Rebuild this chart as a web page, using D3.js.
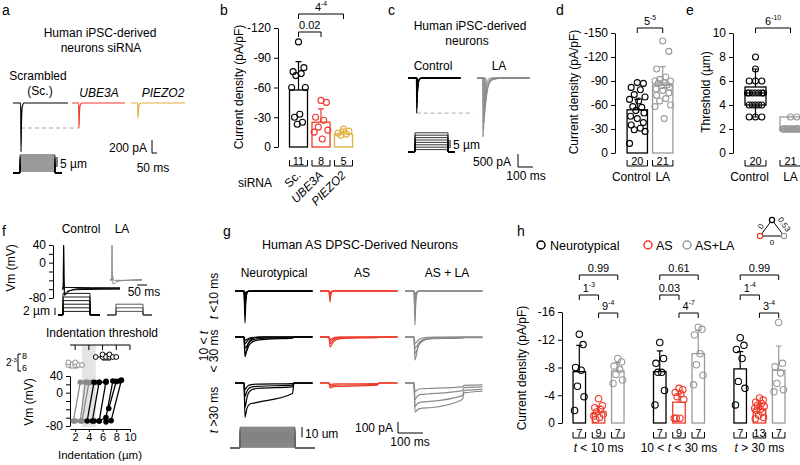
<!DOCTYPE html>
<html><head><meta charset="utf-8">
<script src="https://cdn.jsdelivr.net/npm/d3@7/dist/d3.min.js"></script>
<style>html,body{margin:0;padding:0;background:#fff}svg{display:block}</style>
</head><body>
<script>
// ===================== DATA =====================
// a: representative currents
const aTraces = ["Scrambled","UBE3A","PIEZO2"];
const aPeakPA = [-750,-385,-230];
const aPeakMs = [80,70,70];
const aTauMs  = [5,5,6];
const aEndMs  = [550,530,540];
const aStimUm = [1,2,3,4,5,6,7,8,9];
// b
const bCats = ["Sc.","UBE3A","PIEZO2"];
const bMean = [-57.5,-25,-13];
const bErr  = [-28.5,-13.5,-5];
const bPts  = [[-106,-80,-76,-74,-72,-60,-60,-33,-30,-25,-23],
               [-47,-45,-30,-27,-20,-17,-15,-8],
               [-18,-16,-14,-13,-12]];
const bN = [11,8,5];
const bTicks = [0,-30,-60,-90,-120];
const bSig = ["0.02","4^-4"];
// c: current families
const cCtrlPA = [-1350,-1150,-950,-780,-600,-430,-280,-140];
const cCtrlMs = [58,59,60,61,62,63,64,65];
const cLAPA   = [-2270,-2000,-1720,-1450,-1200,-950,-700,-450];
const cLAMs   = [40,43,46,49,52,55,58,62];
const cLATau  = [8,10,12,14,16,18,20,22];
const cStimUm = [1.5,3,4.5,6,7.5,9,10.5,12];
// d
const dCats = ["Control","LA"];
const dMean = [-54,-85];
const dErr  = [-13,-23];
const dPts  = [[-88,-87,-82,-79,-73,-70,-67,-65,-58,-57,-53,-50,-46,-43,-38,-35,-31,-29,-27,-12],
               [-140,-127,-105,-95,-92,-90,-90,-88,-87,-85,-84,-82,-80,-78,-75,-72,-68,-65,-60,-58,-43]];
const dN = [20,21];
const dTicks = [0,-30,-60,-90,-120,-150];
const dSig = "5^-5";
// e
const eCats = ["Control","LA"];
const eQ1 = [4,2], eMed = [5,2], eQ3 = [5.5,3], eLo = [3,2], eHi = [7,3];
const ePts = [[8,7,6,6,6,5,5,5,5,5,5,5,4,4,4,4,4,3,3,3],
              [3,3,2,2,2,2,2,2,2,2,2,2,2,2,2,2,2,2,2,2,2]];
const eN = [20,21];
const eTicks = [0,2,4,6,8,10];
const eSig = "6^-10";
// f
const fCtrlSweeps = [
  [[0,-58],[6,-58],[8,40],[10,-30],[13,-74],[30,-66],[80,-59],[290,-58]],
  [[0,-60],[6,-60],[8,36],[10,-35],[13,-70],[30,-64],[80,-61],[290,-60]],
  [[0,-57],[6,-57],[9,-50],[15,-56],[290,-57]]];
const fLASweeps = [
  [[0,-38],[8,-38],[10,40],[12,-20],[15,-48],[40,-42],[160,-38]],
  [[0,-40],[8,-40],[11,-30],[20,-40],[160,-40]]];
const fCtrlStim = [1,2,3,4,5,6];
const fLAStim = [1,2,3];
const fThrCtrl = [5,6,6,6.5,7,7,7.5,8];
const fThrLA = [1,1,2,2,2.5,3];
const fShade = [3,5];
const fCellsLA = [
  [[1.75,-68],[2.75,25],[3.75,25]],
  [[2.75,-68],[3.5,25],[4.5,25]],
  [[2,-68],[3,-68],[4,24],[5,24]]];
const fCellsCtrl = [
  [[3.75,-68],[4.75,25],[5.5,25]],
  [[4.5,-68],[5.5,25],[6.5,25]],
  [[4.75,-68],[5.5,-68],[6.5,27]],
  [[5.5,-68],[6.5,-60],[7.5,28],[8.5,28]],
  [[6.5,-70],[7.25,-67],[8.75,30]],
  [[6.9,-38],[8,27]]];
// g: traces per cell: [peak pA, decay ms, sustained start pA, sustained end pA]
const gNT1 = [[-290,3,0,0],[-200,3,0,0],[-120,4,0,0],[-60,4,0,0],[-25,5,0,0]];
const gAS1 = [[-100,3,0,0],[-70,3,0,0],[-40,4,0,0],[-20,4,0,0]];
const gLA1 = [[-310,3,0,0],[-200,3,0,0],[-90,4,0,0],[-40,4,0,0]];
const gNT2 = [[-180,12,0,0],[-150,18,-20,-10],[-100,18,-10,-5],[-60,15,0,0],[-30,15,0,0]];
const gAS2 = [[-90,15,-10,-5],[-60,18,-5,0],[-40,15,0,0],[-25,12,0,0]];
const gLA2 = [[-210,12,-15,-10],[-150,18,-10,-5],[-100,20,-5,0],[-60,15,0,0]];
const gNT3 = [[-310,8,-180,-95],[-220,10,-50,-35],[-120,10,-30,-20],[-60,10,-10,-5]];
const gAS3 = [[-45,10,-30,-20],[-30,10,-18,-12],[-15,10,-8,-5]];
const gLA3 = [[-265,12,-225,-150],[-215,10,-170,-115],[-150,10,-100,-70],[-80,10,-50,-35]];
const gStimUm = [1,2,3,4,5,6,7,8,9,10,11,12,13,14,15,16,17,18,19,20];
// h
const hGroups = ["g1","g2","g3"];
const hSeries = ["Neurotypical","AS","AS+LA"];
const hMean = [[-7.4,-1.5,-7.5],[-7.4,-3.0,-10.0],[-7.8,-2.0,-7.6]];
const hErr  = [[-3.8,-0.9,-1.2],[-3.0,-1.2,-3.4],[-2.5,-0.8,-3.5]];
const hN    = [[7,9,7],[7,9,7],[7,13,7]];
const hPts  = [
  [[-12.8,-11.3,-8.0,-7.6,-5.3,-3.8,-1.8],[-3.5,-2.5,-2.2,-2.0,-1.6,-1.3,-1.0,-0.8,-0.5],[-9.3,-8.8,-8.2,-7.7,-7.0,-6.2,-5.7]],
  [[-11.6,-9.3,-8.6,-7.3,-7.3,-4.7,-2.6],[-5.0,-4.8,-4.4,-4.2,-3.8,-3.4,-0.7,-0.7,-0.7],[-13.8,-13.5,-12.7,-10.0,-8.4,-6.9,-5.5]],
  [[-12.3,-11.2,-10.6,-9.3,-6.0,-5.0,-2.6],[-3.6,-3.3,-3.0,-2.8,-2.6,-2.4,-2.1,-2.0,-1.8,-1.5,-1.1,-0.8,-0.6],[-14.5,-8.6,-8.1,-7.2,-5.7,-4.8,-4.5]]];
const hTicks = [0,-4,-8,-12,-16];
const hSigNtAs = ["1^-3","0.03","1^-4"];
const hSigAsLa = ["9^-4","4^-7","3^-4"];
const hSigNtLa = ["0.99","0.61","0.99"];
const triLabels = ["0","0.53","0"];

// ===================== DRAWING =====================
const FONT = "'Liberation Sans', Arial, Helvetica, sans-serif";
const C = {k:"#000", red:"#EE3A2A", gold:"#E1B03F", gray:"#9a9a9a", tgray:"#8a8a8a"};
const svg = d3.select("body").append("svg").attr("width",800).attr("height",465)
  .attr("font-family",FONT);

function T(g,x,y,s,o={}){
  const t=g.append("text").attr("x",x).attr("y",y).attr("font-size",o.size||12)
    .attr("text-anchor",o.anchor||"start").attr("fill",o.fill||"#000").attr("font-family",FONT);
  if(o.italic) t.attr("font-style","italic");
  if(o.rot!=null) t.attr("transform",`rotate(${o.rot},${x},${y})`);
  if(s) t.text(s);
  return t;
}
function label(g,x,y,s,o={}){
  const size=o.size||12, t=T(g,x,y,"",o), [base,exp]=s.split("^");
  t.append("tspan").text(base);
  if(exp!==undefined) t.append("tspan").attr("font-size",size*0.62).attr("dy",-size*0.42).text(exp);
  return t;
}
function rich(g,x,y,parts,o={}){
  const t=T(g,x,y,"",o);
  parts.forEach(p=>{const s=t.append("tspan").text(p[0]); if(p[1]) s.attr("font-style","italic");});
  return t;
}
function line(g,d,col,w){ return g.append("path").attr("d",d).attr("fill","none").attr("stroke",col||"#000").attr("stroke-width",w||1); }
function sig(g,x1,x2,y,s){ line(g,`M${x1},${y+5}V${y}H${x2}V${y+5}`,"#000",1); label(g,(x1+x2)/2,y-3,s,{anchor:"middle",size:11}); }
function nBr(g,x0,x1,y,n){ line(g,`M${x0},${y-6}V${y}H${x1}V${y-6}`,"#000",1); T(g,(x0+x1)/2,y-1.5,String(n),{anchor:"middle",size:11}); }
function yAxis(g,x,scale,ticks,labelled){
  const ax=d3.axisLeft(scale).tickValues(ticks).tickSize(4).tickSizeOuter(0).tickPadding(3)
    .tickFormat(d=>(!labelled||labelled.includes(d))?String(d):"");
  const a=g.append("g").attr("transform",`translate(${x},0)`).call(ax);
  a.selectAll("text").attr("font-size",12).attr("font-family",FONT).attr("fill","#000");
  a.selectAll("line").attr("stroke","#000");
  a.select(".domain").attr("stroke","#000");
  return a;
}
const JIT=[0,0.3,-0.3,0.15,-0.15,0.38,-0.38,0.07,-0.22,0.22,-0.07,0.33,-0.33];
function barDots(g,o){
  o.cats.forEach((c,i)=>{
    const x0=o.x(c), bw=o.x.bandwidth(), cx=x0+bw/2, col=o.colors[i];
    const yTop=o.y(o.mean[i]), y0=o.y(0);
    g.append("rect").attr("x",x0).attr("y",yTop).attr("width",bw).attr("height",y0-yTop)
      .attr("fill","#fff").attr("stroke",col).attr("stroke-width",1.3);
    const ye=o.y(o.mean[i]+o.err[i]);
    line(g,`M${cx},${yTop}V${ye}M${cx-3},${ye}H${cx+3}`,col,1.2);
    o.pts[i].forEach((v,j)=>g.append("circle").attr("cx",cx+JIT[j%JIT.length]*bw).attr("cy",o.y(v))
      .attr("r",o.r||3).attr("fill","none").attr("stroke",col).attr("stroke-width",1.1));
    nBr(g,x0,x0+bw,o.nY,o.n[i]);
  });
}
function transient(on,pkT,amp,tau,end){
  return [[0,0],[on,0],[pkT,amp],[pkT+tau,amp*0.37],[pkT+2.5*tau,amp*0.08],[pkT+6*tau,0],[end,0]];
}
const mono = (xs,ys)=>d3.line().x(d=>xs(d[0])).y(d=>ys(d[1])).curve(d3.curveMonotoneX);
const lin = (xs,ys)=>d3.line().x(d=>xs(d[0])).y(d=>ys(d[1]));

// ---------- a ----------
const gA=svg.append("g");
T(gA,2,15,"a",{size:14});
T(gA,100,37,"Human iPSC-derived",{anchor:"middle"});
T(gA,101,52,"neurons siRNA",{anchor:"middle"});
T(gA,38,80,"Scrambled",{anchor:"middle"});
T(gA,40,95,"(Sc.)",{anchor:"middle"});
T(gA,99,97,"UBE3A",{anchor:"middle",italic:true});
T(gA,163,97,"PIEZO2",{anchor:"middle",italic:true});
const aX0=[13,72,131], aCol=[C.k,C.red,C.gold];
const aY=d3.scaleLinear().domain([0,-200]).range([103,116]);
const aXs=aTraces.map((nm,i)=>d3.scaleLinear().domain([0,aEndMs[i]]).range([aX0[i],aX0[i]+aEndMs[i]/10]));
line(gA,`M${aXs[0](aPeakMs[0])},${aY(aPeakPA[1])}H${aXs[1](aPeakMs[1])}`,"#aaa",1).attr("stroke-dasharray","4,3");
aTraces.forEach((nm,i)=>{
  line(gA,mono(aXs[i],aY)(transient(aPeakMs[i]-3,aPeakMs[i],aPeakPA[i],aTauMs[i],aEndMs[i])),aCol[i],1.2);
});
const aSx=d3.scaleLinear().domain([0,490]).range([13,62]);
const aSy=d3.scaleLinear().domain([0,9]).range([173,155]);
aStimUm.forEach(u=>line(gA,`M${aSx(0)},${aSy(0)}H${aSx(70)}V${aSy(u)}H${aSx(420)}V${aSy(0)}H${aSx(490)}`,"#000",0.8));
line(gA,`M57,${aSy(3)}V${aSy(8)}`,"#000",1);
T(gA,60,168,"5 µm");
line(gA,"M152,140V153H157","#000",1);
T(gA,147,152,"200 pA",{anchor:"end"});
T(gA,153,172,"50 ms",{anchor:"middle"});

// ---------- b ----------
const gB=svg.append("g");
T(gB,220,15,"b",{size:14});
const yb=d3.scaleLinear().domain([0,-120]).range([147,28]);
const xb=d3.scaleBand().domain(bCats).range([285,357]).padding(0.2);
yAxis(gB,278,yb,bTicks);
T(gB,243,87,"Current density (pA/pF)",{anchor:"middle",rot:-90});
barDots(gB,{cats:bCats,mean:bMean,err:bErr,pts:bPts,n:bN,colors:[C.k,C.red,C.gold],x:xb,y:yb,nY:166});
T(gB,238,187,"siRNA");
bCats.forEach((c,i)=>{
  const cx=xb(c)+xb.bandwidth()/2+3;
  T(gB,cx,176,c,{anchor:"end",rot:-45,italic:i>0});
});
const bc=c=>xb(c)+xb.bandwidth()/2;
sig(gB,bc("Sc."),bc("UBE3A"),32,bSig[0]);
sig(gB,bc("Sc."),bc("PIEZO2"),14,bSig[1]);

// ---------- c ----------
const gC=svg.append("g");
T(gC,388,15,"c",{size:14});
T(gC,470,30,"Human iPSC-derived",{anchor:"middle"});
T(gC,467,45,"neurons",{anchor:"middle"});
T(gC,433,70,"Control",{anchor:"middle"});
T(gC,499,70,"LA",{anchor:"middle"});
const cY=d3.scaleLinear().domain([0,-500]).range([78,91]);
const cXc=d3.scaleLinear().domain([0,350]).range([408,460.5]);
const cXl=d3.scaleLinear().domain([0,350]).range([477,529.5]);
line(gC,`M${cXc(cCtrlMs[0])},${cY(cCtrlPA[0])}H${cXl(0)-4}`,"#aaa",1).attr("stroke-dasharray","4,3");
cCtrlPA.forEach((a,i)=>line(gC,mono(cXc,cY)(transient(cCtrlMs[i]-3,cCtrlMs[i],a,4+i*0.6,350)),"#000",0.8));
cLAPA.forEach((a,i)=>line(gC,mono(cXl,cY)(transient(cLAMs[i]-4,cLAMs[i],a,cLATau[i],350)),C.tgray,0.8));
const cSx=d3.scaleLinear().domain([0,315]).range([408,455]);
const cSy=d3.scaleLinear().domain([0,12.5]).range([152,132]);
cStimUm.forEach(u=>line(gC,`M${cSx(0)},${cSy(0)}H${cSx(47)}V${cSy(u)}H${cSx(268)}V${cSy(0)}H${cSx(315)}`,"#000",0.8));
line(gC,`M450,${cSy(2.5)}V${cSy(7.5)}`,"#000",1);
T(gC,453,149,"5 µm");
line(gC,"M518,154V167H533","#000",1);
T(gC,511,166,"500 pA",{anchor:"end"});
T(gC,526,180,"100 ms",{anchor:"middle"});

// ---------- d ----------
const gD=svg.append("g");
T(gD,556,15,"d",{size:14});
const yd=d3.scaleLinear().domain([0,-150]).range([153,33]);
const xd=d3.scaleBand().domain(dCats).range([622,678]).padding(0.2);
yAxis(gD,615,yd,dTicks);
T(gD,578,92,"Current density (pA/pF)",{anchor:"middle",rot:-90});
barDots(gD,{cats:dCats,mean:dMean,err:dErr,pts:dPts,n:dN,colors:[C.k,C.gray],x:xd,y:yd,nY:166});
dCats.forEach((c,i)=>T(gD,xd(c)+xd.bandwidth()/2-(i===0?6:0),181,c,{anchor:"middle"}));
sig(gD,xd("Control")+xd.bandwidth()/2,xd("LA")+xd.bandwidth()/2,28,dSig);

// ---------- e ----------
const gE=svg.append("g");
T(gE,686,15,"e",{size:14});
const ye=d3.scaleLinear().domain([0,10]).range([153,33]);
const xe=d3.scaleBand().domain(eCats).range([741.5,804.5]).paddingInner(0.4).paddingOuter(0.1);
yAxis(gE,733,ye,eTicks);
T(gE,710,92,"Threshold (µm)",{anchor:"middle",rot:-90});
eCats.forEach((c,i)=>{
  const x0=xe(c), bw=xe.bandwidth(), cx=x0+bw/2, col=i===0?C.k:C.gray;
  line(gE,`M${cx},${ye(eQ3[i])}V${ye(eHi[i])}M${cx-3},${ye(eHi[i])}H${cx+3}M${cx},${ye(eQ1[i])}V${ye(eLo[i])}M${cx-3},${ye(eLo[i])}H${cx+3}`,col,1.2);
  gE.append("rect").attr("x",x0).attr("y",ye(eQ3[i])).attr("width",bw).attr("height",ye(eQ1[i])-ye(eQ3[i]))
    .attr("fill","#fff").attr("stroke",col).attr("stroke-width",1.3);
  line(gE,`M${x0},${ye(eMed[i])}H${x0+bw}`,col,1.3);
  const seen={};
  ePts[i].forEach(v=>{const k=(seen[v]=(seen[v]||0)+1)-1;
    gE.append("circle").attr("cx",cx+JIT[k%JIT.length]*bw).attr("cy",ye(v)).attr("r",3)
      .attr("fill","none").attr("stroke",col).attr("stroke-width",1.1);});
  nBr(gE,x0,x0+bw,166,eN[i]);
  T(gE,cx-(i===0?6:0),181,c,{anchor:"middle"});
});
sig(gE,xe("Control")+xe.bandwidth()/2,xe("LA")+xe.bandwidth()/2,28,eSig);

// ---------- f ----------
const gF=svg.append("g");
T(gF,2,236,"f",{size:14});
T(gF,81,233,"Control",{anchor:"middle"});
T(gF,122,233,"LA",{anchor:"middle"});
const fVy=d3.scaleLinear().domain([-80,40]).range([298,245]);
yAxis(gF,53,fVy,[40,20,0,-20,-40,-60,-80],[40,0,-80]);
T(gF,15,268,"Vm (mV)",{anchor:"middle",rot:-90});
const fCx=d3.scaleLinear().domain([0,290]).range([62,120]);
const fLx=d3.scaleLinear().domain([0,160]).range([110,142]);
fCtrlSweeps.forEach(s=>line(gF,mono(fCx,fVy)(s),"#000",1));
fLASweeps.forEach(s=>line(gF,mono(fLx,fVy)(s),C.tgray,1));
line(gF,`M${fLx(135)},285H${fLx(135)+10}`,"#000",1);
T(gF,144,296,"50 ms",{anchor:"middle"});
const fCSx=d3.scaleLinear().domain([0,210]).range([58,100]);
const fLSx=d3.scaleLinear().domain([0,225]).range([107,152]);
const fSy=d3.scaleLinear().domain([0,6]).range([315,293.4]);
fCtrlStim.forEach(u=>line(gF,`M${fCSx(0)},${fSy(0)}H${fCSx(25)}V${fSy(u)}H${fCSx(160)}V${fSy(0)}H${fCSx(210)}`,"#000",0.9));
fLAStim.forEach(u=>line(gF,`M${fLSx(0)},${fSy(0)}H${fLSx(45)}V${fSy(u)}H${fLSx(180)}V${fSy(0)}H${fLSx(225)}`,"#444",0.9));
line(gF,`M55,${fSy(0)}V${fSy(2)}`,"#000",1);
T(gF,50,315,"2 µm",{anchor:"end"});
T(gF,102,337,"Indentation threshold",{anchor:"middle"});
const fx=d3.scaleLinear().domain([1.25,10]).range([70,130]);
const fy=d3.scaleLinear().domain([-80,40]).range([426,376]);
gF.append("rect").attr("x",fx(fShade[0])).attr("y",345).attr("width",fx(fShade[1])-fx(fShade[0])).attr("height",82).attr("fill","#e4e4e4");
line(gF,`M70,345H130`+[2,4,6,8,10].map(v=>`M${fx(v)},345V350`).join(""),"#000",1);
function thrRow(vals,y,col){
  const s=vals.slice().sort(d3.ascending);
  line(gF,`M${fx(s[0])},${y}H${fx(s[s.length-1])}`,col,1);
  gF.append("rect").attr("x",fx(d3.quantile(s,0.25))).attr("y",y-3).attr("width",fx(d3.quantile(s,0.75))-fx(d3.quantile(s,0.25))).attr("height",6).attr("fill","#fff").attr("stroke",col).attr("stroke-width",1);
  const seen={};
  vals.forEach(v=>{const k=(seen[v]=(seen[v]||0)+1)-1;
    gF.append("circle").attr("cx",fx(v)).attr("cy",y+[0,-2.6,2.6][k%3]).attr("r",2.4).attr("fill","#fff").attr("stroke",col).attr("stroke-width",1);});
}
thrRow(fThrCtrl,357,"#000");
thrRow(fThrLA,365,C.tgray);
line(gF,"M21,354H18V371H21","#000",1);
T(gF,22,359,String(fThrCtrl.length),{size:9});
T(gF,22,371,String(fThrLA.length),{size:9});
label(gF,17,366,"2^-3",{anchor:"end",size:10});
yAxis(gF,70,fy,[40,20,0,-20,-40,-60,-80],[40,0,-80]);
const fxa=gF.append("g").attr("transform","translate(0,429)").call(d3.axisBottom(fx).tickValues([2,4,6,8,10]).tickSize(3).tickSizeOuter(0).tickPadding(1));
fxa.selectAll("text").attr("font-size",11).attr("font-family",FONT).attr("fill","#000");
fxa.selectAll("line,path").attr("stroke","#000");
T(gF,100,459,"Indentation (µm)",{anchor:"middle",size:11.5});
T(gF,33,402,"Vm (mV)",{anchor:"middle",rot:-90});
[[fCellsLA,C.tgray],[fCellsCtrl,"#000"]].forEach(([cells,col])=>cells.forEach(cell=>{
  line(gF,lin(fx,fy)(cell),col,1.3);
  cell.forEach(p=>gF.append("circle").attr("cx",fx(p[0])).attr("cy",fy(p[1])).attr("r",2.8).attr("fill",col));
}));

// ---------- g ----------
const gG=svg.append("g");
T(gG,223,236,"g",{size:14});
T(gG,360,249,"Human AS DPSC-Derived Neurons",{anchor:"middle",size:12.5});
const gColLbl=["Neurotypical","AS","AS + LA"], gColCx=[274,362,447];
gColLbl.forEach((s,i)=>T(gG,gColCx[i],277,s,{anchor:"middle"}));
rich(gG,218,296,[["t",1],[" <10 ms"]],{anchor:"middle",rot:-90});
rich(gG,208,346,[["10 < "],["t",1]],{anchor:"middle",rot:-90});
T(gG,218,351,"< 30 ms",{anchor:"middle",rot:-90});
rich(gG,218,410,[["t",1],[" >30 ms"]],{anchor:"middle",rot:-90});
const gCells=[[gNT1,gAS1,gLA1],[gNT2,gAS2,gLA2],[gNT3,gAS3,gLA3]];
const gCol=[C.k,C.red,C.tgray], gX0=[235,320,405], gY0=[291,337,383];
gCells.forEach((row,r)=>row.forEach((traces,c)=>{
  const xs=d3.scaleLinear().domain([0,310]).range([gX0[c],gX0[c]+77.5]);
  const ys=d3.scaleLinear().domain([0,-100]).range([gY0[r],gY0[r]+11]);
  traces.forEach(([pk,tau,s1,s2])=>{
    const pts=[[0,0],[36,0],[40,pk],[40+tau,s1+(pk-s1)*0.37],[40+2.5*tau,s1+(pk-s1)*0.08],[40+5*tau,s1],[230,s2]];
    if(c===2) pts.push([236,s2*0.6],[310,s2*0.5]); else pts.push([236,0],[310,0]);
    line(gG,mono(xs,ys)(pts),gCol[c],1.2);
  });
}));
const gSx=d3.scaleLinear().domain([0,340]).range([230,315]);
const gSy=d3.scaleLinear().domain([0,20]).range([448,427]);
gG.append("path").attr("d",`M${gSx(40)},${gSy(0)}V${gSy(20)}H${gSx(260)}V${gSy(0)}Z`).attr("fill","#a8a8a8");
gStimUm.forEach(u=>line(gG,`M${gSx(0)},${gSy(0)}H${gSx(40)}V${gSy(u)}H${gSx(260)}V${gSy(0)}H${gSx(340)}`,"#666",0.6));
line(gG,`M302,${gSy(20)}V${gSy(10)}`,"#000",1);
T(gG,305,438,"10 um");
line(gG,"M398,422V433H423","#000",1);
T(gG,393,432,"100 pA",{anchor:"end"});
T(gG,410,446,"100 ms",{anchor:"middle"});

// ---------- h ----------
const gH=svg.append("g");
T(gH,517,236,"h",{size:14});
const legCol=[C.k,C.red,C.gray], legCx=[541,648,687], legTx=[550,656,695];
hSeries.forEach((s,i)=>{
  gH.append("circle").attr("cx",legCx[i]).attr("cy",245).attr("r",4).attr("fill","none").attr("stroke",legCol[i]).attr("stroke-width",1.5);
  T(gH,legTx[i],249.5,s,{size:12.5});
});
const tri=[[772,220],[760,236],[784,236]], triCol=[C.k,C.red,C.gray];
line(gH,`M${tri[0]}L${tri[1]}L${tri[2]}Z`,"#000",1);
tri.forEach((p,i)=>gH.append("circle").attr("cx",p[0]).attr("cy",p[1]).attr("r",2.6).attr("fill","#fff").attr("stroke",triCol[i]).attr("stroke-width",1.2));
T(gH,763,228,triLabels[0],{anchor:"middle",size:8,rot:-55});
T(gH,782,226,triLabels[1],{anchor:"middle",size:8,rot:55});
T(gH,772,245,triLabels[2],{anchor:"middle",size:8});
const hy=d3.scaleLinear().domain([0,-16]).range([423,312]);
const hx0=d3.scaleBand().domain(hGroups).range([565,793]).paddingInner(0.366).paddingOuter(0.1);
const hx1=d3.scaleBand().domain(hSeries).range([0,hx0.bandwidth()]).paddingInner(0.35);
yAxis(gH,562,hy,hTicks);
T(gH,526,368,"Current density (pA/pF)",{anchor:"middle",rot:-90});
const hLbl=[[["t",1],[" < 10 ms"]],[["10 < "],["t",1],[" < 30 ms"]],[["t",1],[" > 30 ms"]]];
hGroups.forEach((g,gi)=>{
  const xs=c=>hx0(g)+hx1(c); xs.bandwidth=()=>hx1.bandwidth();
  barDots(gH,{cats:hSeries,mean:hMean[gi],err:hErr[gi],pts:hPts[gi],n:hN[gi],colors:[C.k,C.red,C.gray],x:xs,y:hy,nY:438,r:3.2});
  const cx=s=>xs(s)+hx1.bandwidth()/2;
  sig(gH,cx("Neurotypical"),cx("AS+LA"),275,hSigNtLa[gi]);
  sig(gH,cx("Neurotypical"),cx("AS"),295,hSigNtAs[gi]);
  sig(gH,cx("AS"),cx("AS+LA"),313,hSigAsLa[gi]);
  rich(gH,hx0(g)+hx0.bandwidth()/2,452,hLbl[gi],{anchor:"middle"});
});
</script>
</body></html>
